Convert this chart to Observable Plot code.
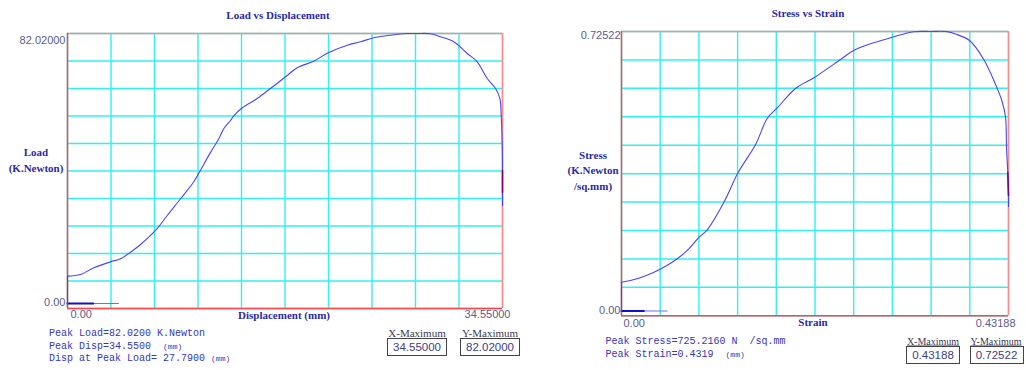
<!DOCTYPE html>
<html><head><meta charset="utf-8">
<script src="https://cdn.jsdelivr.net/npm/d3@7"></script>
<script src="https://cdn.jsdelivr.net/npm/@observablehq/plot@0.6"></script>
<style>
body{margin:0;background:#fff;}
#root{position:relative;width:1026px;height:370px;overflow:hidden;background:#fff;}
.abs{position:absolute;white-space:pre;line-height:1;}
.title{font:bold 11px "Liberation Serif",serif;color:#2a2aa8;transform:translate(-50%,-50%);}
.ylab{font:bold 11px "Liberation Serif",serif;color:#2a2aa8;text-align:center;transform:translate(-50%,-50%);line-height:15.5px;}
.mono{font:10px "Liberation Mono",monospace;color:#3535c0;transform:translateY(-50%);}
.mono small{font-size:8px;}
.boxlab{font:11px "Liberation Serif",serif;color:#3a3a55;text-decoration:underline;transform:translate(-50%,-50%);}
.box{border:1.5px solid #444;box-sizing:border-box;font:11.5px "Liberation Sans",sans-serif;color:#404088;display:flex;align-items:center;justify-content:center;}
</style></head>
<body><div id="root"></div>
<script>
// ---- Load vs Displacement data ----
const dispX = [0, 0, 1.03, 2.09, 3.42, 4.21, 5.00, 5.80, 6.99, 7.92, 8.98, 10.03, 10.43, 11.36, 12.02, 12.42, 12.95, 13.21, 13.88, 15.07, 16.12, 17.32, 18.24, 19.56, 20.75, 22.22, 23.27, 24.33, 25.66, 26.98, 27.79, 28.83, 29.63, 30.68, 31.75, 32.54, 33.34, 34.0, 34.34, 34.45, 34.53, 34.55, 34.55, 34.55];
const loadY = [0, 8.3, 8.81, 10.85, 12.67, 13.58, 15.58, 17.92, 22.18, 26.73, 31.81, 37.0, 39.6, 45.9, 50.04, 53.16, 55.6, 57.02, 59.45, 62.28, 65.32, 68.87, 71.61, 73.61, 76.25, 78.47, 79.5, 80.72, 81.51, 82.0, 82.02, 81.95, 81.02, 79.5, 75.95, 73.43, 68.36, 65.32, 62.28, 56.72, 48.09, 40.41, 33.72, 29.77];
const dispDarkX = [34.55, 34.55];
const loadDarkY = [40.41, 33.72];
const dispBaseThinX = [0, 4.05];
const dispBaseThickX = [0, 2.04];

// ---- Stress vs Strain data ----
const strainX = [0, 0, 0.0100, 0.0249, 0.0443, 0.0622, 0.0751, 0.0867, 0.0956, 0.1149, 0.1300, 0.1495, 0.1629, 0.1733, 0.1942, 0.2157, 0.2444, 0.2589, 0.2779, 0.3024, 0.3259, 0.3448, 0.3635, 0.3727, 0.3884, 0.4043, 0.4193, 0.4244, 0.4285, 0.4297, 0.4311, 0.43188, 0.43188];
const stressY = [0, 0.0747, 0.0791, 0.0895, 0.1095, 0.1355, 0.1614, 0.1915, 0.2107, 0.2849, 0.3586, 0.4313, 0.5008, 0.5255, 0.5774, 0.6067, 0.6526, 0.6760, 0.6934, 0.7105, 0.7245, 0.72522, 0.7250, 0.7188, 0.7019, 0.6526, 0.5774, 0.5462, 0.5047, 0.4217, 0.3594, 0.2997, 0.2712];
const strainDarkX = [0.4311, 0.43188];
const stressDarkY = [0.3594, 0.2997];
const strainBaseThinX = [0, 0.0510];
const strainBaseThickX = [0, 0.0249];

// ---- axis extents (tick labels) ----
const leftTicks = {xMax: 34.55, yMax: 82.02, yMin: -1.52};
const rightTicks = {xMax: 0.43188, yMax: 0.72522, yMin: -0.01246};

const root = document.getElementById("root");

function panel(c) {
  const gx = d3.range(11).map(i => c.xMax * i / 10);
  const gy = d3.range(11).map(i => c.yMin + (c.yMax - c.yMin) * i / 10);
  const idx = a => d3.range(a.length);
  const tickFill = "#5c5c8e";
  const svg = Plot.plot({
    width: c.width, height: c.height,
    marginLeft: c.ml, marginRight: c.mr, marginTop: c.mt, marginBottom: c.mb,
    style: {background: "transparent", overflow: "visible", fontFamily: "Liberation Sans, sans-serif", fontSize: "11px"},
    x: {domain: [0, c.xMax]},
    y: {domain: [c.yMin, c.yMax]},
    marks: [
      Plot.gridX(gx, {stroke: "#30f0f0", strokeOpacity: 1, strokeWidth: 1.4}),
      Plot.gridY(gy, {stroke: "#30f0f0", strokeOpacity: 1, strokeWidth: 1.5}),
      Plot.ruleY([c.yMax], {stroke: "#ff8a8a", strokeWidth: 1.5}),
      Plot.ruleX([c.xMax], {stroke: "#ff8a8a", strokeWidth: 1.5}),
      Plot.ruleY([c.yMin], {stroke: "#ff4545", strokeWidth: 1.5}),
      Plot.ruleX([0], {stroke: "#ff4545", strokeWidth: 1.5}),
      Plot.line(idx(c.baseThin), {x: i => c.baseThin[i], y: () => 0, stroke: "#6a6aff", strokeWidth: 1}),
      Plot.line(idx(c.baseThick), {x: i => c.baseThick[i], y: () => 0, stroke: "#1010c8", strokeWidth: 2}),
      // vertical start segment (straight)
      Plot.line([0, 1], {x: i => c.xs[i], y: i => c.ys[i], stroke: "#4646ff", strokeWidth: 1.1}),
      // main curve (smoothed)
      Plot.line(idx(c.xs).slice(1), {x: i => c.xs[i], y: i => c.ys[i], stroke: "#4646ff", strokeWidth: 1.1, curve: "catmull-rom"}),
      Plot.line(idx(c.darkX), {x: i => c.darkX[i], y: i => c.darkY[i], stroke: "#7a0070", strokeWidth: 1.5}),
      Plot.axisY([c.yMax], {tickSize: 0, tickPadding: c.yPad, tickFormat: d3.format(".5f"), dy: c.dyTop, fill: tickFill, label: null, fontSize: 11}),
      Plot.axisY([0], {tickSize: 0, tickPadding: c.yPad, tickFormat: d3.format(".2f"), dy: c.dyZero, fill: tickFill, label: null, fontSize: 11}),
      Plot.axisX([0], {tickSize: 0, tickPadding: c.xPad, tickFormat: d3.format(".2f"), textAnchor: "start", dx: c.dx0, fill: tickFill, label: null, fontSize: 11}),
      Plot.axisX([c.xMax], {tickSize: 0, tickPadding: c.xPad, tickFormat: d3.format(".5f"), textAnchor: "end", dx: c.dxMax, fill: tickFill, label: null, fontSize: 11})
    ]
  });
  svg.style.position = "absolute";
  svg.style.left = c.left + "px";
  svg.style.top = "0px";
  root.appendChild(svg);
}

panel({left: 0, width: 520, height: 330, ml: 67, mr: 18, mt: 33, mb: 22,
  xMax: leftTicks.xMax, yMax: leftTicks.yMax, yMin: leftTicks.yMin,
  xs: dispX, ys: loadY, darkX: dispDarkX, darkY: loadDarkY,
  baseThin: dispBaseThinX, baseThick: dispBaseThickX,
  yPad: 2, dyTop: 7, dyZero: -1.5, xPad: 2, dx0: 3, dxMax: 8});

panel({left: 513, width: 513, height: 335, ml: 108, mr: 18, mt: 31, mb: 19.7,
  xMax: rightTicks.xMax, yMax: rightTicks.yMax, yMin: rightTicks.yMin,
  xs: strainX, ys: stressY, darkX: strainDarkX, darkY: stressDarkY,
  baseThin: strainBaseThinX, baseThick: strainBaseThickX,
  yPad: 1, dyTop: 4, dyZero: -1, xPad: 3, dx0: 2, dxMax: 7});

function add(cls, x, y, html, extra) {
  const d = document.createElement("div");
  d.className = "abs " + cls;
  d.style.left = x + "px"; d.style.top = y + "px";
  d.innerHTML = html;
  if (extra) Object.assign(d.style, extra);
  root.appendChild(d);
  return d;
}
// titles
add("title", 278, 15, "Load vs Displacement");
add("title", 808, 13, "Stress vs Strain");
// y labels
add("ylab", 36, 160, "Load<br>(K.Newton)");
add("ylab", 593, 170.5, "Stress<br>(K.Newton<br>/sq.mm)");
// x labels
add("title", 284, 315, "Displacement (mm)");
add("title", 813, 322, "Strain");
// bottom text
add("mono", 49, 333, "Peak Load=82.0200 K.Newton");
add("mono", 49, 345.5, "Peak Disp=34.5500  <small>(mm)</small>");
add("mono", 49, 358, "Disp at Peak Load= 27.7900 <small>(mm)</small>");
add("mono", 605.5, 341, "Peak Stress=725.2160 N  /sq.mm");
add("mono", 605.5, 354, "Peak Strain=0.4319  <small>(mm)</small>");
// boxes
add("boxlab", 417, 332.5, "X-Maximum");
add("boxlab", 490, 332.5, "Y-Maximum");
add("box", 387, 338, "34.55000", {width: "60px", height: "18px"});
add("box", 460, 338, "82.02000", {width: "60px", height: "18px"});
add("boxlab", 933, 341, "X-Maximum", {fontSize: "10px"});
add("boxlab", 996, 341, "Y-Maximum", {fontSize: "10px"});
add("box", 906, 346, "0.43188", {width: "54px", height: "18px"});
add("box", 969.5, 346, "0.72522", {width: "54px", height: "18px"});
</script>
</body></html>
